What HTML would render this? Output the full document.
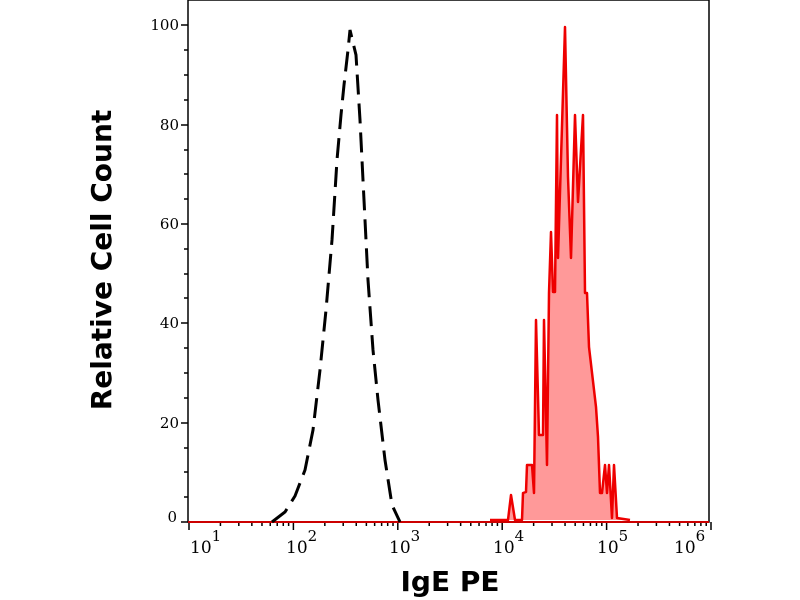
<!DOCTYPE html>
<html><head><style>body{margin:0;background:#fff}svg{display:block}</style></head><body>
<svg width="800" height="600" xmlns="http://www.w3.org/2000/svg">
<rect x="188" y="0" width="521" height="522" fill="none" stroke="#000" stroke-width="1.5"/>
<g stroke="#000" stroke-width="1.5">
<line x1="181" y1="25" x2="188" y2="25"/><line x1="181" y1="125" x2="188" y2="125"/><line x1="181" y1="224" x2="188" y2="224"/><line x1="181" y1="323" x2="188" y2="323"/><line x1="181" y1="423" x2="188" y2="423"/><line x1="181" y1="522" x2="188" y2="522"/>
<line x1="184" y1="50" x2="188" y2="50"/><line x1="184" y1="75" x2="188" y2="75"/><line x1="184" y1="100" x2="188" y2="100"/>
<line x1="184" y1="150" x2="188" y2="150"/><line x1="184" y1="174" x2="188" y2="174"/><line x1="184" y1="199" x2="188" y2="199"/>
<line x1="184" y1="249" x2="188" y2="249"/><line x1="184" y1="274" x2="188" y2="274"/><line x1="184" y1="298" x2="188" y2="298"/>
<line x1="184" y1="348" x2="188" y2="348"/><line x1="184" y1="373" x2="188" y2="373"/><line x1="184" y1="398" x2="188" y2="398"/>
<line x1="184" y1="448" x2="188" y2="448"/><line x1="184" y1="472" x2="188" y2="472"/><line x1="184" y1="497" x2="188" y2="497"/>
</g>
<g id="xt" stroke="#000" stroke-width="1.5"></g>
<g font-family="DejaVu Serif, serif" font-size="15" text-anchor="end" fill="#000">
<text x="179" y="30">100</text><text x="179" y="130">80</text><text x="179" y="229">60</text><text x="179" y="328">40</text><text x="179" y="428">20</text><text x="177" y="522">0</text>
</g>
<g font-family="DejaVu Serif, serif" font-size="17" fill="#000">
<text x="190" y="553">10<tspan font-size="15" dy="-12">1</tspan></text>
<text x="286" y="553">10<tspan font-size="15" dy="-12">2</tspan></text>
<text x="389" y="553">10<tspan font-size="15" dy="-12">3</tspan></text>
<text x="493" y="553">10<tspan font-size="15" dy="-12">4</tspan></text>
<text x="597" y="553">10<tspan font-size="15" dy="-12">5</tspan></text>
<text x="674" y="553">10<tspan font-size="15" dy="-12">6</tspan></text>
</g>
<text x="450" y="591" font-family="DejaVu Sans, sans-serif" font-weight="bold" font-size="28" text-anchor="middle">IgE PE</text>
<text transform="translate(111,260) rotate(-90)" font-family="DejaVu Sans, sans-serif" font-weight="bold" font-size="28" text-anchor="middle">Relative Cell Count</text>
<line x1="188" y1="522" x2="709" y2="522" stroke="#c00" stroke-width="2"/>
<polyline fill="none" stroke="#000" stroke-width="3" stroke-dasharray="20,9" points="272,522 285,512 295,496 305,470 313,430 320,370 326,310 332,240 337,160 341,115 344,85 348,50 350,30 356,55 360,120 364,200 368,280 373,350 378,400 385,460 392,505 400,522"/>
<polyline fill="#f99" stroke="#e00" stroke-width="2.5" stroke-linejoin="round" points="490,520 508,520 511,495 515,520 522,520 523,493 526,492 527,465 532,465 534,493 536,320 539,435 543,435 544,320 547,465 549,293 551,232 553,292 555,292 557,115 558,258 565,27 568,177 571,258 575,115 578,202 583,115 585,293 587,293 589,347 596,407 598,437 600,493 602,493 605,465 607,493 609,465 612,518 614,465 617,518 630,520"/>
</svg>
<script>
var g=document.getElementById('xt'),s='';
for(var d=0;d<6;d++){var x0=189+d*104.4;s+='<line x1="'+x0+'" y1="522" x2="'+x0+'" y2="530"/>';
if(d<5)for(var k=2;k<10;k++){var x=x0+Math.log10(k)*104.4;s+='<line x1="'+x+'" y1="522" x2="'+x+'" y2="526"/>';}}
g.innerHTML=s;
</script>
</body></html>
